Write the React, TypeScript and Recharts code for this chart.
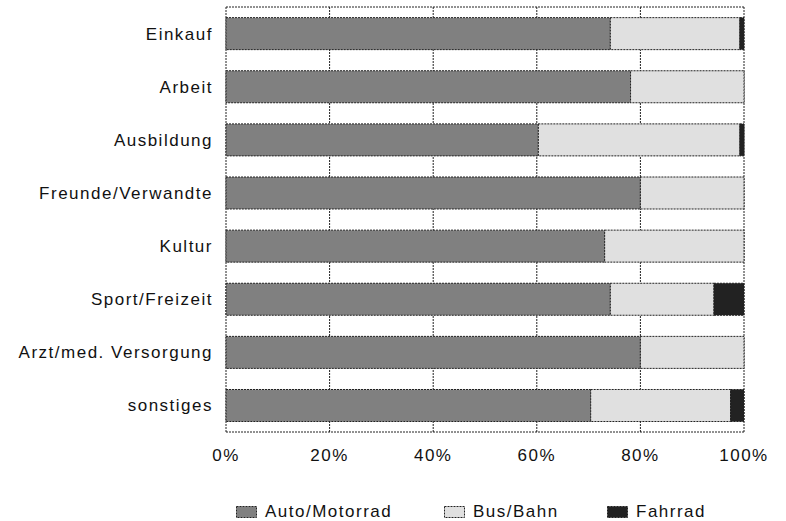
import React from 'react';
import { BarChart, Bar, XAxis, YAxis, CartesianGrid } from 'recharts';

const categories = [
  'Einkauf',
  'Arbeit',
  'Ausbildung',
  'Freunde/Verwandte',
  'Kultur',
  'Sport/Freizeit',
  'Arzt/med. Versorgung',
  'sonstiges',
];
const autoShare = [74.2, 78.1, 60.3, 80.0, 73.1, 74.2, 80.0, 70.4];
const busShare = [25.0, 21.9, 38.9, 20.0, 26.9, 20.0, 20.0, 27.0];
const radShare = [0.8, 0, 0.8, 0, 0, 5.8, 0, 2.6];
const xTicks = [0, 20, 40, 60, 80, 100];

const series = [
  { key: 'auto', name: 'Auto/Motorrad', color: '#808080' },
  { key: 'bus', name: 'Bus/Bahn', color: '#e0e0e0' },
  { key: 'rad', name: 'Fahrrad', color: '#222222' },
];

const data = categories.map((name, i) => ({
  name,
  auto: autoShare[i],
  bus: busShare[i],
  rad: radShare[i],
}));

const font = '"Liberation Sans", Arial, sans-serif';
const dash = '2 1';
const legendLeft = [236, 444, 607];

const textStyle = { fill: '#111', fontSize: 17, fontFamily: font, letterSpacing: 1.5 };

const Legend = () => (
  <>
    {series.map((s, i) => (
      <div
        key={s.key}
        style={{
          position: 'absolute',
          top: 502,
          left: legendLeft[i],
          display: 'flex',
          alignItems: 'center',
          fontFamily: font,
          fontSize: 17,
          lineHeight: '20px',
          letterSpacing: 1.5,
          color: '#111',
          whiteSpace: 'nowrap',
        }}
      >
        <svg width={22} height={13} style={{ marginRight: 7 }}>
          <rect x={0.5} y={0.5} width={20} height={11} fill={s.color} stroke="#222" strokeDasharray={dash} />
        </svg>
        <span>{s.name}</span>
      </div>
    ))}
  </>
);

export default function App() {
  return (
    <div style={{ position: 'absolute', top: 0, left: 0, width: 786, height: 521, background: '#fff' }}>
      <BarChart
        width={786}
        height={521}
        data={data}
        layout="vertical"
        barCategoryGap="20%"
        margin={{ top: 7, right: 42, left: 0, bottom: 59 }}
      >
        <CartesianGrid
          stroke="#222"
          strokeDasharray={dash}
          horizontalCoordinatesGenerator={({ offset }: any) => [offset.top, offset.top + offset.height]}
        />
        <XAxis
          type="number"
          domain={[0, 100]}
          ticks={xTicks}
          tickFormatter={(v: number) => `${v}%`}
          axisLine={false}
          tickLine={false}
          tick={textStyle}
          tickMargin={11}
          height={30}
        />
        <YAxis
          type="category"
          dataKey="name"
          width={226}
          axisLine={false}
          tickLine={false}
          tick={textStyle}
          tickMargin={7}
        />
        {series.map((s) => (
          <Bar
            key={s.key}
            dataKey={s.key}
            name={s.name}
            stackId="a"
            fill={s.color}
            stroke="#222"
            strokeDasharray={dash}
            isAnimationActive={false}
          />
        ))}
      </BarChart>
      <Legend />
    </div>
  );
}
